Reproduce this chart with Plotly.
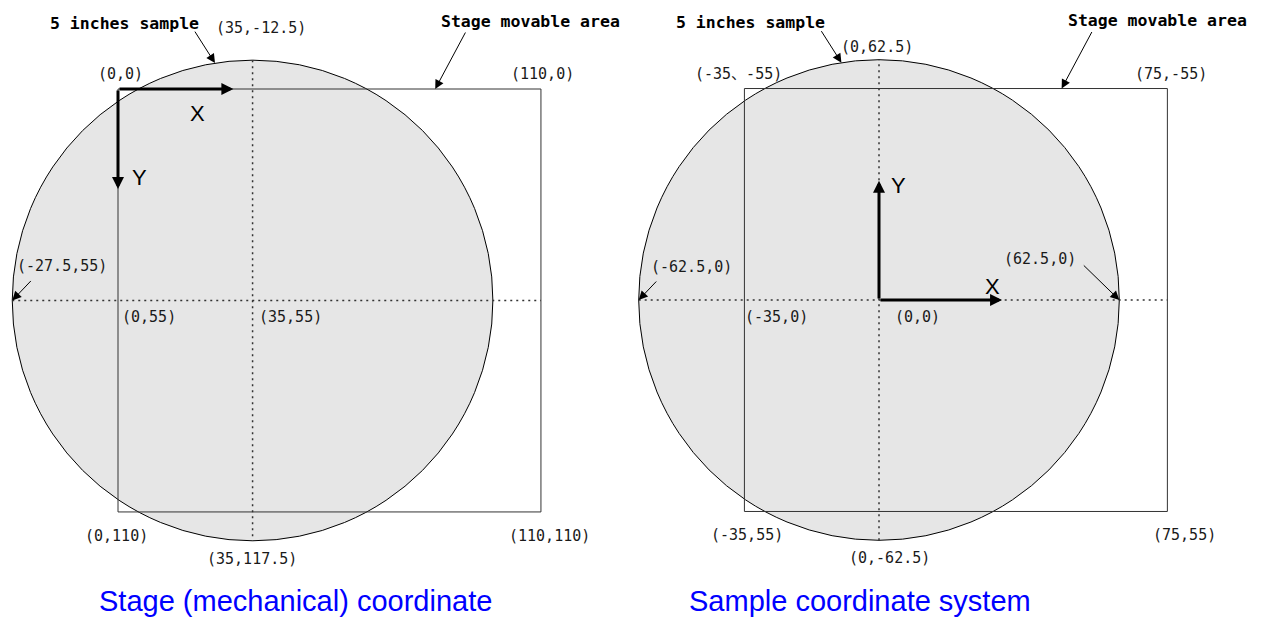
import math
import plotly.graph_objects as go

# ---------------- data ----------------
# Stage (mechanical) coordinate system: origin at the top-left of the movable area, y grows downward
stage_rect_x = [0, 110]
stage_rect_y = [0, 110]
stage_center = [35, 55]
stage_axis_len = [30, 26]          # lengths of the X / Y direction arrows

# Sample coordinate system: origin at the sample centre, y grows upward
sample_rect_x = [-35, 75]
sample_rect_y = [-55, 55]
sample_center = [0, 0]
sample_axis_len = [32, 31]

sample_radius = 62.5               # 5 inch sample (125 mm diameter)

stage_labels = ["(0,0)", "(110,0)", "(0,110)", "(110,110)", "(35,-12.5)",
                "(35,117.5)", "(-27.5,55)", "(137.5,55)", "(0,55)", "(35,55)"]
stage_label_x = [0, 110, 0, 110, 35, 35, -27.5, 137.5, 0, 35]
stage_label_y = [0, 0, 110, 110, -12.5, 117.5, 55, 55, 55, 55]

sample_labels = ["(-35、-55)", "(75,-55)", "(-35,55)", "(75,55)", "(0,62.5)",
                 "(0,-62.5)", "(-62.5,0)", "(62.5,0)", "(-35,0)", "(0,0)"]
sample_label_x = [-35, 75, -35, 75, 0, 0, -62.5, 62.5, -35, 0]
sample_label_y = [55, 55, -55, -55, 62.5, -62.5, 0, 0, 0, 0]

callouts = ["5 inches sample", "Stage movable area"]
axis_names = ["X", "Y"]
captions = ["Stage (mechanical) coordinate", "Sample coordinate system"]

# ---------------- layout / style ----------------
WIN_W, WIN_H = 1262, 617
PAGE = 8                         # default body margin of the html page
W, H = WIN_W - PAGE, WIN_H - PAGE
PX = 3.845                       # pixels per mm
LEFT_ORIGIN = (118 - PAGE, 89 - PAGE)    # pixel position of stage (0,0)
RIGHT_ORIGIN = (879 - PAGE, 300 - PAGE)  # pixel position of sample (0,0)
SPLIT = 631 - PAGE

LABEL_FONT = dict(family="DejaVu Sans Mono, Noto Sans CJK JP", size=15, color="#1a1a1a")
CALLOUT_FONT = dict(family="DejaVu Sans Mono", size=16.5, color="#000000", weight="bold")
AXIS_FONT = dict(family="Liberation Sans", size=22, color="#000000")
CAPTION_FONT = dict(family="Liberation Sans", size=29, color="#0000FF")

# label offsets: (xanchor, xshift, yshift, arrow offset or None)
stage_offsets = [
    ("center", 2, 15, None), ("center", 2, 15, None),
    ("center", -2, -24, None), ("center", 9, -24, None),
    ("center", 8, 13, None), ("center", -1, -18, None),
    ("left", 3, 34, (20, -21)), ("right", -32, 42, (-38, -35)),
    ("left", 2, -17, None), ("left", 4, -17, None),
]
sample_offsets = [
    ("center", -6, 15, None), ("center", 4, 15, None),
    ("center", 3, -24, None), ("center", 17, -24, None),
    ("center", -2, 13, None), ("center", 10, -18, None),
    ("left", 10, 33, (19, -20)), ("right", -41, 41, (-37, -36)),
    ("left", -1, -17, None), ("left", 14, -17, None),
]

fig = go.Figure()
fig.add_trace(go.Scatter(x=stage_label_x, y=stage_label_y, mode="markers",
                         marker=dict(opacity=0), hoverinfo="skip",
                         showlegend=False, xaxis="x", yaxis="y"))
fig.add_trace(go.Scatter(x=sample_label_x, y=sample_label_y, mode="markers",
                         marker=dict(opacity=0), hoverinfo="skip",
                         showlegend=False, xaxis="x2", yaxis="y2"))

shapes = []
annotations = []


def panel(xref, yref, rect_x, rect_y, center, axis_origin, axis_len, up,
          labels, lx, ly, offsets, axis_label_shifts):
    cx, cy = center
    r = sample_radius
    # sample disc
    shapes.append(dict(type="circle", xref=xref, yref=yref, layer="below",
                       x0=cx - r, x1=cx + r, y0=cy - r, y1=cy + r,
                       fillcolor="#e6e6e6", line=dict(color="#000000", width=1)))
    # dotted centre lines
    dot = dict(color="#333333", width=1.5, dash="2px,4px")
    shapes.append(dict(type="line", xref=xref, yref=yref,
                       x0=cx - r, x1=max(rect_x), y0=cy, y1=cy, line=dot))
    shapes.append(dict(type="line", xref=xref, yref=yref,
                       x0=cx, x1=cx, y0=cy - r, y1=cy + r, line=dot))
    # stage movable area
    shapes.append(dict(type="rect", xref=xref, yref=yref,
                       x0=rect_x[0], x1=rect_x[1], y0=rect_y[0], y1=rect_y[1],
                       line=dict(color="#333333", width=1)))
    # coordinate labels
    for t, x, y, (xa, xs, ys, arr) in zip(labels, lx, ly, offsets):
        annotations.append(dict(xref=xref, yref=yref, x=x, y=y, text=t,
                                showarrow=False, xanchor=xa, yanchor="middle",
                                xshift=xs, yshift=ys, font=LABEL_FONT))
        if arr is not None:
            annotations.append(dict(xref=xref, yref=yref, x=x, y=y, text="",
                                    showarrow=True, ax=arr[0], ay=arr[1],
                                    arrowhead=2, arrowsize=1.8, arrowwidth=1,
                                    arrowcolor="#000000", standoff=0))
    # callout: sample
    ang = math.radians(9)
    tip = (cx - r * math.sin(ang), cy + up * r * math.cos(ang))
    annotations.append(dict(xref=xref, yref=yref, x=tip[0], y=tip[1], text="",
                            showarrow=True, ax=-21, ay=-33, arrowhead=2,
                            arrowsize=1.8, arrowwidth=1, arrowcolor="#000000",
                            standoff=0))
    annotations.append(dict(xref=xref, yref=yref, x=tip[0], y=tip[1],
                            text=callouts[0], showarrow=False, xanchor="right",
                            yanchor="middle", xshift=-14, yshift=40,
                            font=CALLOUT_FONT))
    # callout: movable area
    top = rect_y[1] if up > 0 else rect_y[0]
    tip2 = (rect_x[0] + 0.75 * (rect_x[1] - rect_x[0]), top)
    annotations.append(dict(xref=xref, yref=yref, x=tip2[0], y=tip2[1], text="",
                            showarrow=True, ax=31, ay=-58, arrowhead=2,
                            arrowsize=1.8, arrowwidth=1, arrowcolor="#000000",
                            standoff=0))
    annotations.append(dict(xref=xref, yref=yref, x=tip2[0], y=tip2[1],
                            text=callouts[1], showarrow=False, xanchor="left",
                            yanchor="middle", xshift=4, yshift=68,
                            font=CALLOUT_FONT))
    # axis arrows
    ox, oy = axis_origin
    tips = [(ox + axis_len[0], oy), (ox, oy + axis_len[1])]
    for name, (tx, ty), (xs, ys) in zip(axis_names, tips, axis_label_shifts):
        annotations.append(dict(xref=xref, yref=yref, axref=xref, ayref=yref,
                                x=tx, y=ty, ax=ox, ay=oy, text="", showarrow=True,
                                arrowhead=2, arrowsize=0.8, arrowwidth=3,
                                arrowcolor="#000000", standoff=0))
        annotations.append(dict(xref=xref, yref=yref, x=tx, y=ty, text=name,
                                showarrow=False, xanchor="center", yanchor="middle",
                                xshift=xs, yshift=ys, font=AXIS_FONT))


panel("x", "y", stage_rect_x, stage_rect_y, stage_center, (0, 0), stage_axis_len, -1,
      stage_labels, stage_label_x, stage_label_y, stage_offsets,
      [(-36, -24), (21, 11)])
panel("x2", "y2", sample_rect_x, sample_rect_y, sample_center, (0, 0), sample_axis_len, 1,
      sample_labels, sample_label_x, sample_label_y, sample_offsets,
      [(-10, 14), (19, -5)])

caption_left_px = [97 - PAGE, 687 - PAGE]
caption_mid_y = 601 - PAGE
for cap, xp in zip(captions, caption_left_px):
    annotations.append(dict(xref="paper", yref="paper", x=xp / W, y=(H - caption_mid_y) / H,
                            text=cap, showarrow=False, xanchor="left",
                            yanchor="middle", font=CAPTION_FONT))

hidden = dict(visible=False, showgrid=False, zeroline=False, fixedrange=True)
fig.update_layout(
    width=W, height=H, autosize=False,
    margin=dict(l=0, r=0, t=0, b=0),
    paper_bgcolor="white", plot_bgcolor="white",
    showlegend=False, hovermode=False,
    shapes=shapes, annotations=annotations,
    xaxis=dict(domain=[0, SPLIT / W], anchor="y",
               range=[(0 - LEFT_ORIGIN[0]) / PX, (SPLIT - LEFT_ORIGIN[0]) / PX], **hidden),
    yaxis=dict(domain=[0, 1], anchor="x",
               range=[(H - LEFT_ORIGIN[1]) / PX, (0 - LEFT_ORIGIN[1]) / PX], **hidden),
    xaxis2=dict(domain=[SPLIT / W, 1], anchor="y2",
                range=[(SPLIT - RIGHT_ORIGIN[0]) / PX, (W - RIGHT_ORIGIN[0]) / PX], **hidden),
    yaxis2=dict(domain=[0, 1], anchor="x2",
                range=[(RIGHT_ORIGIN[1] - H) / PX, RIGHT_ORIGIN[1] / PX], **hidden),
)

fig.write_html("out.html")
